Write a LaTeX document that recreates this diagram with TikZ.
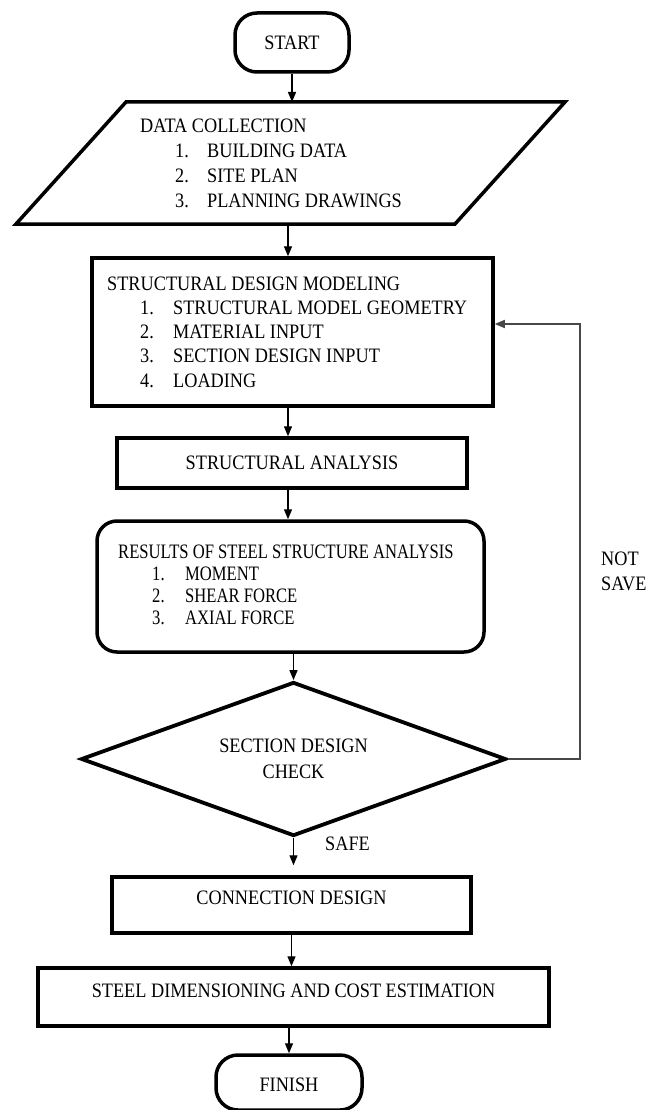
\documentclass[tikz,border=0pt]{standalone}
\usepackage{fontspec}
\setmainfont{Liberation Serif}[FakeStretch=0.89]
\newfontfamily\condserif{Liberation Serif}[FakeStretch=0.81]
\usetikzlibrary{shapes.geometric,arrows.meta}
\newcommand{\listline}[4]{\hspace*{#1}\makebox[#2][l]{#3}#4}
\tikzset{
  boxline/.style={draw=black, line width=3.5pt},
  plainbox/.style={boxline, rectangle, inner sep=0pt},
  termbox/.style={boxline, rectangle, rounded corners=22pt, inner sep=0pt},
  decbox/.style={boxline, diamond, aspect=2.76, inner sep=0pt, align=center, line width=3.8pt},
  arr/.style={line width=1.4pt, -{Triangle[length=10pt,width=8pt]}},
  fbarr/.style={line width=1.6pt, draw=black!72, -{Triangle[length=10pt,width=8pt]}},
  txt/.style={inner sep=0pt, anchor=base west},
}
\begin{document}
\begin{tikzpicture}[x=1pt, y=-1pt, font=\fontsize{20.5}{24.5}\selectfont]
\useasboundingbox (0,0) rectangle (659,1110);

% START
\node[termbox, minimum width=114pt, minimum height=59pt] (start) at (292,42.5) {START};

% DATA COLLECTION (parallelogram)
\node[minimum width=439pt, minimum height=122pt, inner sep=0pt, outer sep=0pt] (dc) at (290.5,163) {};
\draw[boxline, line join=miter] ([xshift=55pt]dc.north west) -- ([xshift=55pt]dc.north east)
   -- ([xshift=-55pt]dc.south east) -- ([xshift=-55pt]dc.south west) -- cycle;
\node[txt, font=\fontsize{20.5}{24.7}\selectfont] (dcT) at (140,133) {\begin{tabular}[t]{@{}l@{}}
DATA COLLECTION\\
\listline{35pt}{32pt}{1.}{BUILDING DATA}\\
\listline{35pt}{32pt}{2.}{SITE PLAN}\\
\listline{35pt}{32pt}{3.}{PLANNING DRAWINGS}
\end{tabular}};

% STRUCTURAL DESIGN MODELING
\node[plainbox, minimum width=401pt, minimum height=148pt] (sdm) at (292.5,332) {};
\node[txt, font=\fontsize{20.5}{24.3}\selectfont] (sdmT) at (107,290) {\begin{tabular}[t]{@{}l@{}}
STRUCTURAL DESIGN MODELING\\
\listline{33pt}{33pt}{1.}{STRUCTURAL MODEL GEOMETRY}\\
\listline{33pt}{33pt}{2.}{MATERIAL INPUT}\\
\listline{33pt}{33pt}{3.}{SECTION DESIGN INPUT}\\
\listline{33pt}{33pt}{4.}{LOADING}
\end{tabular}};

% STRUCTURAL ANALYSIS
\node[plainbox, minimum width=350pt, minimum height=50pt] (sa) at (292,463) {STRUCTURAL ANALYSIS};

% RESULTS
\node[termbox, rounded corners=20pt, minimum width=387pt, minimum height=131pt] (res) at (290.5,586.5) {};
\node[txt, font=\condserif\fontsize{20.5}{22}\selectfont] (resT) at (118,558) {\begin{tabular}[t]{@{}l@{}}
RESULTS OF STEEL STRUCTURE ANALYSIS\\
\listline{34pt}{33pt}{1.}{MOMENT}\\
\listline{34pt}{33pt}{2.}{SHEAR FORCE}\\
\listline{34pt}{33pt}{3.}{AXIAL FORCE}
\end{tabular}};

% DECISION
\node[decbox, minimum width=425pt, minimum height=154pt, font=\fontsize{20.5}{26}\selectfont] (chk) at (293.5,759) {SECTION DESIGN\\CHECK};

% CONNECTION DESIGN
\node[plainbox, minimum width=359pt, minimum height=56pt, text depth=14pt] (cd) at (291.5,905) {CONNECTION DESIGN};

% STEEL DIMENSIONING
\node[plainbox, minimum width=511pt, minimum height=58pt, text depth=12pt] (sdce) at (293.5,997) {STEEL DIMENSIONING AND COST ESTIMATION};

% FINISH
\node[termbox, minimum width=146pt, minimum height=55pt, text height=19pt] (fin) at (289,1082.5) {FINISH};

% labels
\node[txt] (safe) at (325,850) {SAFE};
\node[txt, font=\fontsize{20.5}{25}\selectfont] (notsave) at (601,565) {\begin{tabular}[t]{@{}l@{}}NOT\\SAVE\end{tabular}};

% connectors
\draw[arr] (start.south) -- (start.south |- dc.north);
\draw[arr] ([xshift=-2.5pt]dc.south) -- ([xshift=-2.5pt]dc.south |- sdm.north);
\draw[arr] ([xshift=-4.5pt]sdm.south) -- ([xshift=-4.5pt]sdm.south |- sa.north);
\draw[arr] ([xshift=-4pt]sa.south) -- ([xshift=-4pt]sa.south |- res.north);
\draw[arr] (chk.north |- res.south) -- (chk.north);
\draw[arr, shorten >=10pt] (chk.south) -- (chk.south |- cd.north);
\draw[arr] (cd.south) -- (cd.south |- sdce.north);
\draw[arr] (fin.north |- sdce.south) -- (fin.north);

\coordinate (fbR) at (580,324);
\draw[fbarr] (chk.east) -| (fbR) -- (fbR -| sdm.east);
\end{tikzpicture}
\end{document}
